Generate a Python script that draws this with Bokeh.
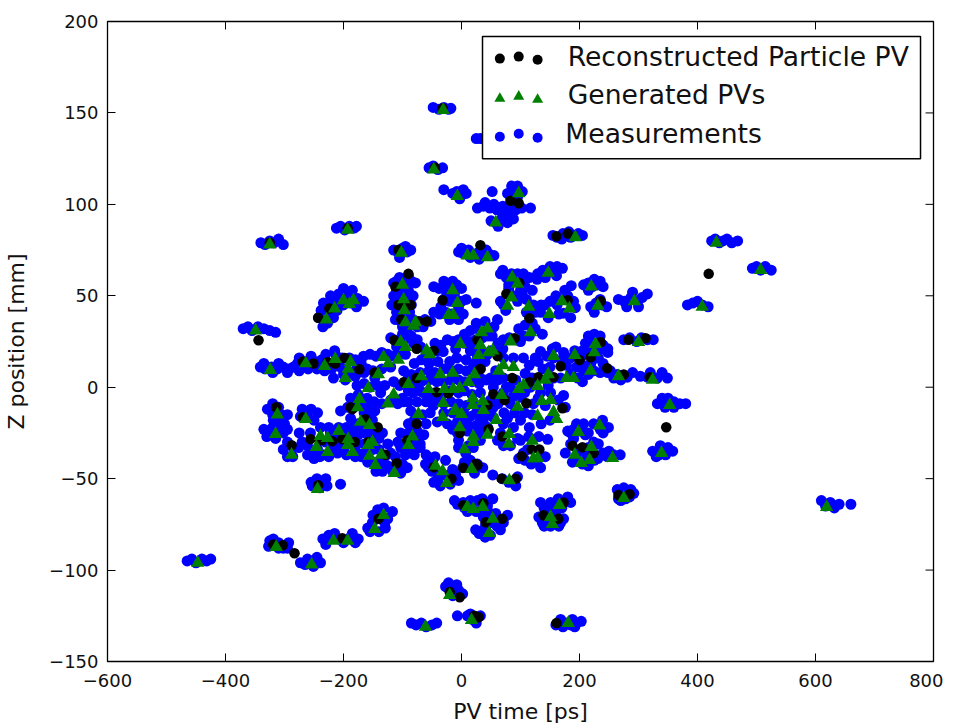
from bokeh.plotting import figure
from bokeh.models import FixedTicker, BoxAnnotation, Range1d
from bokeh.core.properties import value
from bokeh.embed import file_html
from bokeh.resources import INLINE

x_ticks = [-600, -400, -200, 0, 200, 400, 600, 800]
y_ticks = [-150, -100, -50, 0, 50, 100, 150, 200]
legend_labels = ["Reconstructed Particle PV", "Generated PVs", "Measurements"]

generated_pvs = [
(-31,151.6),(-47,119),(-7,104.5),(97,106),(58,90),(-193,86),(-325,78),(-102,73.5),(10,72),(20,72),(44,71),(193,82),
(86,60),(95,56.5),(147,62.5),(220,55),(-100,56),(-15,53),(-98,48),(-7,46),(-97,42),(-22,39.5),(-14,39.5),(-200,47.5),
(-183,47.5),(-190,45.5),(-215,43),(-229,37),(-95,35.5),(-78,35.5),(-81,33.5),(-349,31),(34,30),(44,32),(85,49),(78,44.5),
(114,44),(170,47),(183,43),(149,40),(231,44.5),(293,47),(408,44),(117,30),(-103,24.7),(-95,22),(-2,23.6),(32,23),(-59,20),
(-54,18),(29,17.6),(46,19),(83,25),(53,20),(300,24.7),(227,23.6),(225,19),(156,17),(192,17.6),(-324,9.4),(-264,13),
(-232,11.6),(-214,15.4),(-188,13.8),(-192,10),(-197,5),(-132,16.5),(-124,13),(-107,15),(-141,7),(-158,-0.5),(-173,-6.5),
(-176,-11),(-115,-4),(-125,-9),(-90,1.7),(-68,6),(-56,-1),(-36,7),(-15,7.8),(-29,-1),(-14,-1),(-3,-0.5),(12,2.8),(22,7),
(-31,-8.7),(19,-6),(19,-9.8),(36,-7.6),(-10,-12.5),(37,-12.5),(-73,-14.7),(71,12),(88,11),(63,9),(219,9),(147,7),(178,5),
(190,5),(266,6),(324,4),(353,-9.8),(105,1.2),(97,-1),(129,0.6),(142,4),(68,-4.3),(95,-10.8),(136,-7.6),(151,-7),(156,-13.6),
(161,-17.4),(129,-15.8),(59,-18),(-312,-15),(-264,-17.4),(-315,-25.6),(-239,-26.7),(-227,-27.8),(-208,-24),(-246,-32.7),
(-227,-35.5),(-192,-28.4),(-193,-31.6),(-185,-35.5),(-288,-37),(-171,-19),(-156,-20.7),(-151,-30),(-158,-31.6),(-156,-37.6),
(-136,-37),(-146,-42.6),(-114,-47),(-83,-27),(-90,-31.6),(-12,-13),(0,-14.7),(-32,-16.3),(-3,-22),(20,-27),(20,-30),(5,-34),
(44,-26),(81,-25.6),(80,-31),(120,-29.4),(198,-24.5),(234,-21),(192,-37),(220,-32.7),(203,-41.5),(217,-39.8),(256,-38.7),
(122,-39),(129,-38.7),(339,-36),(-44,-43),(-32,-46),(-25,-52.4),(17,-44.8),(81,-51),(275,-60.6),(-244,-55.7),(10,-65.5),
(20,-66.6),(36,-65.5),(53,-72),(47,-79.8),(166,-64.5),(151,-71),(154,-74.8),(-132,-70),(-147,-77.6),(-217,-84),(-193,-84),
(-314,-87.4),(-254,-97),(-447,-96),(619,-65.5),(-61,-131),(17,-127.4),(181,-129),(-20,-113.7),(507,64),(432,79),
]

reconstructed_pvs = [
(-325,79),(-107,75),(32,77.7),(-90,62),(-112,55),(-32,47.6),(-107,45),(-86,45),(-224,43),(-243,38),(-102,37),(-59,36),(-73,36),
(-344,25.7),(-114,25.7),(27,26),(-47,20),(-76,21),(-269,14),(-251,13),(-227,13.7),(-198,16),(-173,9.8),(-147,8),(-214,13),
(-98,2.7),(-76,5),(-42,-2.7),(-22,-3.3),(32,10),(-188,-11),(161,82.6),(180,84),(98,57),(76,51),(180,47.6),(236,47),(115,37.7),
(90,26.8),(236,24.6),(283,26),(312,26.8),(61,17),(200,14.8),(219,16.4),(168,11.5),(247,10.4),(275,7),(319,5.5),(86,5),(130,5.5),
(156,5.5),(115,2.7),(54,-3.8),(73,-7),(110,-8.8),(171,-11.5),(44,-9.8),(419,62),(-314,-11),(-269,-16.4),(-256,-28.4),(-237,-29),
(-219,-29.5),(-202,-28.4),(-181,-30),(-288,-31.7),(-163,-17.5),(-142,-21.9),(-158,-30),(-129,-37),(-110,-41.6),(-76,-20),(-92,-29),
(-185,-12),(-3,-25),(-47,-43.8),(-17,-50),(3,-44),(27,-42.7),(3,-64.5),(41,-73.8),(-141,-72),(-202,-82.6),(-319,-86),(-303,-86.4),
(-283,-90.8),(-243,-53.6),(37,-63.5),(347,-21.9),(188,-32),(205,-32.8),(224,-36),(119,-34),(132,-34),(102,-37.7),(69,-27),(46,-23),
(68,-50),(92,-50),(266,-59),(285,-58.5),(173,-63),(139,-70),(164,-72),(69,-72),(24,-42),(-20,-112),(-3,-114.9),(29,-125.8),(22,-125),
(161,-129),(83,102),(97,100.6),(-32,152.5),(-45,120),(-193,87),
]

measurements = [
(-48,153),(-38,152),(-30,153),(-22,152),(-18,152.5),(-55,120),(-48,121),(-40,119),(-32,120),(-30,108),(-15,106),(-8,107),(0,105),(8,106),
(52,107),(78,106),(88,108),(103,107),(83,104),(117,98),(27,98),(37,99),(48,98),(60,97),(70,99),(80,98),(92,97),(102,98),(50,91),(58,90),(68,92),(78,90),(88,92),
(-212,87),(-205,88),(-198,86),(-190,88),(-182,87),(-178,88),(-340,79),(-333,78),(-325,80),(-318,79),(-310,81),(-302,78),
(-115,75),(-108,74),(-100,76),(-92,74),(-86,75),(-5,74),(3,73),(12,75),(20,73),(30,74),(38,72),(46,73),(55,72),
(155,83),(162,82),(172,84),(182,85),(190,83),(198,84),(205,83),(424,80),(430,81),(437,79),(443,80),(450,81),(458,79),(468,80),
(493,65),(500,66),(507,64),(515,66),(525,64),(66,62),(76,60),(85,62),(92,59),(100,57),(108,55),(115,60),(120,53),(105,62),
(129,62),(138,64),(147,63),(161,61),(171,65),(155,65),(186,55.5),(207,56),(215,57),(222,55),(232,56),(240,55),
(66,47),(71,45),(88,50),(103,51),(122,45),(134,41),(147,38),(162,45),(180,50),(193,43.5),(173,40.5),(142,45),
(219,44),(228,46),(238,45),(246,44),(266,48),(276,47),(287,49),(298,47),(306,49),(315,51),(383,45),(392,46),(400,47),(408,45),(418,44),
(-115,57),(-110,58),(-102,57),(-95,55),(-85,58),(-78,57),(-115,50),(-108,49),(-98,50),(-90,49),(-82,50),(-118,45),(-105,44),(-95,44),(-85,45),
(-112,37),(-102,36),(-92,37),(-82,37),(-72,36),(-62,37),(-52,36),(-47,55),(-38,54),(-28,55),(-18,54),(-8,56),(0,54),
(-30,48),(-20,47),(-10,48),(0,47),(8,48),(-47,41),(-37,40),(-27,41),(-17,40),(-7,41),(3,40),(25,46),
(-234,46),(-222,50),(-208,51),(-193,51),(-176,48.5),(-166,47),(-188,46),(-211,42),(-222,45),(-242,38),(-227,35),(-217,38),
(-370,32),(-362,33),(-355,31),(-345,33),(-335,32),(-325,31),(-315,30),(-120,27),(-114,26),(-92,27),(-81,24),(-69,22),(-41,20),(-31,19.5),(-53,18),
(-24,26),(-14,25),(-5,26),(5,24),(15,25),(25,26),(15,31),(27,32),(38,30),(48,32),(55,33),(61,37),(97,32),(108,34),(125,32),(137,29),
(71,26),(81,27),(92,26),(100,25),(15,20),(25,21),(38,19),(50,20),(60,19),(70,21),(27,17),(44,18),(210,24),(220,26),(230,25),(240,23),
(214,20),(228,19),(240,21),(248,19),(275,26),(285,27),(297,25),(305,27),(315,26),(325,26),(134,19.5),(154,21),(173,19),(192,20),(202,16),(156,16),(219,13),(248,21),
(252,9),(264,7),(281,5.5),(303,6),(315,5.5),(332,5),(349,5),(248,8),(207,9),(224,9),(185,7.5),(168,5),(197,5),(138,10),(156,5),(147,1),(134,-3),(173,-4.5),
(151,-3),(164,-7),(176,-11),(122,-9),(100,-5.5),(83,0),(71,16),(88,16),(49,5),(32,5),(71,5),(108,7.5),(117,0),(54,0),(32,-3),(49,-7),(71,-3),(83,-9),(54,-11),
(332,-9),(341,-8),(350,-9),(360,-8),(370,-9),(380,-9),(-341,11),(-333,10),(-322,11),(-312,10),(-302,11),(-292,10),
(-285,11),(-278,13),(-268,14),(-258,13),(-248,14),(-237,15),(-225,13),(-212,17),(-202,16),(-190,16),(-180,15),(-170,13),
(-200,7),(-190,8),(-180,6),(-217,5),(-197,4),(-177,1),(-165,2),(-155,0),(-143,1),(-188,-6),(-175,-4),(-160,-6),(-183,-11),(-170,-10),(-155,-11),
(-166,17),(-155,18),(-145,17),(-135,19),(-125,18),(-115,17),(-105,19),(-95,18),(-160,10),(-150,9),(-135,10),(-120,11),(-130,1),(-115,3),(-105,1),
(-148,-8),(-135,-9),(-120,-7),(-108,-9),(-98,-8),(-98,9),(-85,7),(-70,8),(-55,9),(-45,8),(-30,10),(-18,9),(-5,10),(8,9),(20,11),(32,10),
(-92,4),(-80,3),(-68,3),(-55,4),(-42,3),(-30,3),(-18,4),(-5,4),(6,3),(18,3),(30,2),(42,4),(-58,-3),(-45,-3),(-33,-4),(-20,-2),(-5,-3),(5,-2),(18,-4),
(-30,-9),(-18,-8),(-5,-9),(8,-10),(20,-8),(32,-11),(-53,-14),(-41,-19),(-24,-20),(-7,-19),(15,-16),(32,-18),(49,-14),(3,-13),(37,-13),(46,-9),
(-7,-25),(10,-24),(29,-25),(44,-24),(-5,-29),(12,-32),(32,-29),(-5,-33),(7,-36),(20,-33),(27,-29),(44,-22),(54,-16.5),(78,-17),(88,-22),(95,-28),(71,-20),(66,-25),(61,-29),(83,-32),(71,-32),
(100,-29),(114,-27),(131,-27),(146,-28.5),(97,-39),(108,-40),(129,-40),(142,-38),(112,-34),(180,-24),(190,-23),(207,-20),(215,-25),(224,-20),(239,-18),(249,-22),
(176,-36),(185,-31),(188,-41),(205,-42),(215,-43),(232,-31),(231,-39),(247,-38),(258,-37),(269,-37),(224,-30),(324,-35),(337,-32),(346,-37),(358,-35),
(264,-56),(266,-61),(278,-61),(292,-58),(287,-56),(53,-48),(69,-50),(80,-52),(92,-54),(95,-49),
(-61,-42),(-49,-40),(-56,-44),(-27,-40),(-15,-45),(-47,-52),(-36,-54),(-19,-53),(-5,-51),(-36,-48),(2,-44),(10,-43),(27,-42),(36,-44),
(-7,-64),(3,-63),(27,-62),(44,-63),(53,-61),(44,-65),(24,-78),(37,-78),(49,-81),(66,-78),(37,-71),(44,-72),(58,-69),(78,-70),(71,-74),(41,-75),
(134,-63),(151,-63),(164,-61),(176,-62),(185,-63),(131,-71),(137,-74),(151,-76),(168,-74),(173,-72),(142,-68),
(-159,-77),(-151,-74),(-129,-77),(-142,-67),(-117,-68),(-132,-66),(-235,-83),(-225,-81),(-208,-83),(-188,-82),(-175,-83),
(-327,-87),(-319,-83),(-302,-88),(-293,-85),(-273,-96),(-261,-94),(-251,-98),(-239,-96),(-465,-95),(-457,-94),(-450,-96),(-440,-94),(-432,-95),(-425,-94),
(-85,-129),(-77,-130),(-68,-129),(-60,-131),(-50,-130),(-42,-129),(-27,-109),(-20,-111),(-12,-112),(-5,-111),(2,-113),(-7,-125),(10,-125),(18,-127),(25,-126),(32,-125),
(160,-130),(168,-127),(178,-129),(188,-127),(195,-129),(203,-128),(610,-62),(617,-65),(625,-63),(632,-66),(640,-64),(660,-64),
(-329,-12),(-319,-18),(-295,-15),(-273,-16),(-261,-14),(-244,-14),(-335,-23),(-327,-24),(-320,-22),(-310,-23),(-302,-25),(-295,-23),
(-302,-34),(-286,-38),(-276,-33),(-261,-37),(-256,-25),(-239,-22),(-208,-22),(-222,-25),(-261,-32),(-244,-34),(-217,-33),(-200,-34),(-176,-36),(-188,-25),(-175,-26),
(-193,-11),(-188,-17),(-176,-20),(-151,-18),(-134,-25),(-163,-25),(-125,-31),(-163,-36),(-159,-41),(-134,-46),(-120,-36),(-112,-38),(-117,-46),(-92,-44),(-103,-47),
(-108,-30),(-103,-25),(-86,-24),(-64,-26),(-75,-29),(-103,-33),(-83,-32),(-86,-13),(-66,-15),(-108,-8),(-100,-6),
(25,136),(32,136),(40,136),
(-253,-54),(-240,-55),(-228,-54),(-205,-53),(-230,-50),
(105,-36),(118,-42),(134,-44),(-176,8),(-165,8),(-147,5),(-137,-3),(-147,-13),(-165,-14),(-205,-13),
(-150,-25),(-140,-34),(-150,-41),(-138,-40),(-178,-31),(-165,-31),(-200,-25),(-230,-30),(-255,-35),(-275,-25),(-240,-38),
(62,4),(76,0),(92,4),(107,-3),(88,-5),(120,5),(130,-6),(142,-10),(150,-18),(135,-20),(120,-15),(107,-14),(62,-9),(72,-14),
(90,-14),(100,-18),(115,-22),(125,16),(105,16),(115,12),(130,14),(150,11),(178,12),(195,11),(205,3),
(-80,13),(-68,15),(-55,13),(-40,14),(-20,14),(-8,16),(8,15),(25,14),(40,14),(58,9),(-60,-8),(-48,-10),(-65,-3),(-82,-3),(-90,-8),
(-75,-8),(-90,-20),(-80,-18),(-60,-20),(-70,-33),(-60,-37),
(-3,103),(3,108),(40,101),(55,100),(70,95),(85,95),(62,88),(75,94),(95,110),(85,110),(95,104),
(-105,71),(-95,77),(0,76),(15,71),(30,70),(42,75),(170,81),(185,82),
(70,64),(80,56),(95,62),(100,53),(110,48),(128,59),(142,60),(150,66),(162,66),(215,53),(225,59),(235,58),
(75,42),(80,54),(95,47),(110,41),(125,41),(150,47),(135,45),(165,40),(160,50),(175,53),(190,47),(185,38),(225,41),(235,48),(280,44),(290,52),(300,44),
(-105,60),(-90,61),(-110,53),(-90,53),(-110,41),(-100,40),(-88,41),(-90,33),(-75,33),(-65,33),(-100,33),
(-30,58),(-15,58),(-25,51),(-12,51),(-5,44),(-35,44),(-20,37),(-5,37),
(-225,41),(-212,47),(-200,45),(-178,44),(-200,54),(-185,53),(-238,42),(-235,33),
(-110,22),(-100,29),(-85,28),(-75,26),(-60,18),(-45,24),(-35,23),(-105,22),(-10,21),(5,29),(35,27),(45,28),(25,35),(40,36),(52,28),(62,24),(105,28),(115,28),(120,35),
(215,28),(225,29),(235,28),(222,15),(232,16),
(160,22),(145,17),(185,16),(170,15),(205,20),(205,12),(215,7),(235,8),(240,13),(258,5),(270,4),(290,8),(320,8),(340,8),
(-335,13),(-320,8),(-310,13),(-295,8),(-275,9),(-260,10),(-245,10),(-232,9),(-220,10),(-205,11),(-178,10),(-275,16),(-255,17),(-230,18),(-215,20),
(-320,-9),(-310,-11),(-305,-15),(-320,-15),(-255,-12),(-270,-12),(-250,-18),(-330,-27),(-315,-28),(-300,-20),(-310,-20),
(-295,-30),(-285,-33),(-295,-38),(-270,-30),(-250,-39),(-235,-37),(-225,-38),(-210,-36),(-195,-37),(-180,-38),(-240,-29),(-225,-22),(-195,-22),(-183,-22),(-205,-30),(-215,-28),
(-168,-23),(-155,-14),(-145,-23),(-140,-28),(-170,-38),(-150,-34),(-130,-38),(-145,-46),(-135,-41),(-125,-43),(-105,-42),(-100,-42),(-95,-37),(-90,-25),(-75,-24),(-70,-31),(-80,-37),(-95,-35),
(-255,-52),(-245,-50),(-235,-52),(-50,-46),(-40,-50),(-30,-48),(-20,-48),(-10,-48),(-45,-38),(5,-41),(15,-40),(22,-47),(-12,-62),(15,-62),(35,-61),(10,-68),(25,-68),(35,-67),(15,-65),(5,-66),(45,-68),(55,-74),(60,-76),(40,-82),(30,-80),(50,-74),
(140,-66),(155,-65),(170,-66),(145,-72),(160,-70),(150,-65),(140,-76),(165,-76),(180,-60),
(185,-25),(200,-24),(195,-20),(210,-26),(235,-23),(240,-25),(195,-38),(210,-38),(225,-40),(200,-34),(215,-33),(190,-28),(240,-36),(250,-35),
(330,-38),(350,-33),(335,-37),(270,-62),(285,-60),(275,-55),
(-150,-70),(-138,-72),(-125,-72),(-155,-79),(-140,-79),(-130,-74),(-230,-86),(-215,-80),(-200,-85),(-185,-80),(-180,-85),
(-325,-84),(-310,-85),(-310,-88),(-295,-88),(-265,-97),(-245,-93),
(-15,-114),(-22,-107),(-8,-108),(15,-124),(25,-129),(172,-131),(185,-130),(192,-131),
(350,-6),(345,-11),(360,-11),(340,-6),
(-90,-2),(-80,0),(-70,-2),(-55,-6),(-40,-6),(-30,-14),(-15,-14),(-5,-15),(5,-17),(25,-14),(40,-16),(25,-21),(40,-21),(10,-20),(-15,-23),
]

rec_t, rec_z = zip(*reconstructed_pvs)
gen_t, gen_z = zip(*generated_pvs)
meas_t, meas_z = zip(*measurements)

p = figure(frame_width=826, frame_height=640, output_backend="svg", toolbar_location=None,
           x_range=Range1d(-600, 800), y_range=Range1d(-150, 200),
           min_border_left=107, min_border_top=21, min_border_right=10, min_border_bottom=65,
           background_fill_color="white", border_fill_color="white")
p.grid.visible = False
p.outline_line_color = "black"
p.outline_line_width = 1.3

FONT = "DejaVu Sans"
def minus(v):
    return str(v).replace("-", "\u2212")

for ax, ticks in ((p.xaxis[0], x_ticks), (p.yaxis[0], y_ticks)):
    ax.ticker = FixedTicker(ticks=ticks)
    ax.major_label_overrides = {t: minus(t) for t in ticks}
    ax.major_label_text_font = FONT
    ax.major_label_text_font_size = "18px"
    ax.major_label_text_color = "#111111"
    ax.major_tick_in = 8
    ax.major_tick_out = 0
    ax.minor_tick_in = 0
    ax.minor_tick_out = 0
    ax.axis_label_text_font = FONT
    ax.axis_label_text_font_size = "22px"
    ax.axis_label_text_font_style = "normal"
    ax.axis_label_text_color = "#111111"
    ax.axis_line_color = "black"
p.xaxis[0].axis_label = "PV time [ps]"
p.yaxis[0].axis_label = "Z position [mm]"
p.xaxis[0].axis_label_standoff = 9
p.yaxis[0].axis_label_standoff = 17
p.xaxis[0].major_label_standoff = 12
p.yaxis[0].major_label_standoff = 9

# tick marks on the top and right frame edges, without labels
p.segment(x_ticks, [200] * len(x_ticks), x_ticks, [195.6] * len(x_ticks), line_color="black", line_width=1)
p.segment([800] * len(y_ticks), y_ticks, [786.5] * len(y_ticks), y_ticks, line_color="black", line_width=1)

p.scatter(meas_t, meas_z, marker="circle", size=11, color="#0000ff", line_width=0)
p.scatter(rec_t, rec_z, marker="circle", size=10.5, color="black", line_width=0)
p.scatter(gen_t, gen_z, marker="triangle", size=13.5, color="#007f00", line_width=0)

# hand-built legend: three scatter points per row, as in the original
box = BoxAnnotation(left=35.6, right=778, top=191.8, bottom=125, fill_color="white", fill_alpha=1,
                    line_color="black", line_alpha=1, line_width=1.5, level="annotation")
p.add_layout(box)
row_z = [[179.7, 180.8, 179.1], [157.9, 159, 157.3], [137, 138.6, 136.4]]
key_t = [65, 97, 129]
styles = [("circle", 10, "black"), ("triangle", 11, "#007f00"), ("circle", 10, "#0000ff")]
for zs, (m, s, c) in zip(row_z, styles):
    p.scatter(key_t, zs, marker=m, size=s, color=c, line_width=0, level="overlay")
p.text([180, 180, 176], [181, 160, 139], text=legend_labels, text_font=value(FONT), text_font_size="26.6px",
       text_color="#111111", text_baseline="alphabetic", text_align="left", level="overlay")

open("out.html", "w").write(file_html(p, INLINE))
